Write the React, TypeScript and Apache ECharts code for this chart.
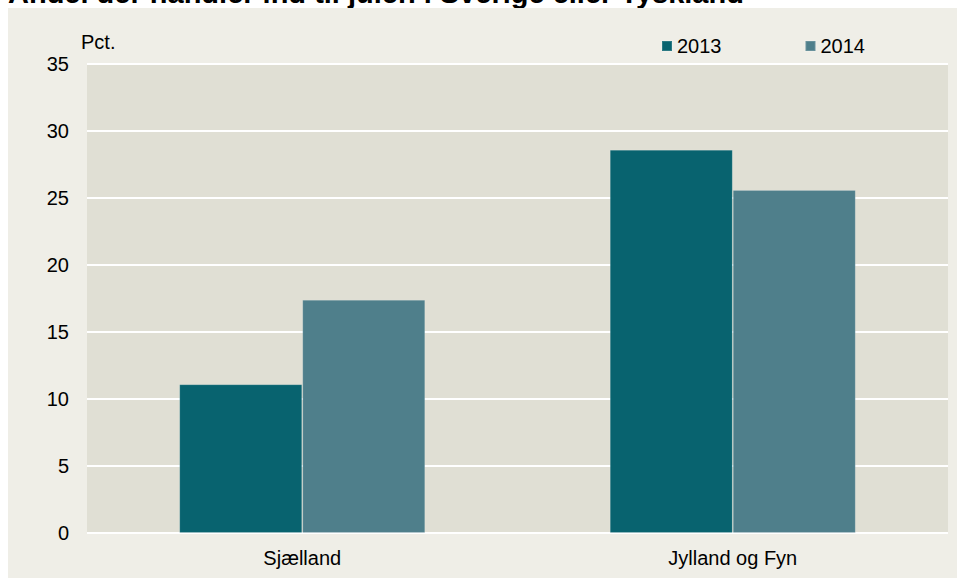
import React, { useEffect, useRef } from "react";
import * as echarts from "echarts";

const title = "Andel der handler ind til julen i Sverige eller Tyskland";
const unitLabel = "Pct.";
const categories = ["Sjælland", "Jylland og Fyn"];
const seriesNames = ["2013", "2014"];
const values2013 = [11.1, 28.6];
const values2014 = [17.4, 25.6];
const seriesColors = ["#08636f", "#4f7f8b"];

const FONT = "'Liberation Sans', Arial, sans-serif";

export default function App() {
  const ref = useRef<HTMLDivElement>(null);
  useEffect(() => {
    if (!ref.current) return;
    const chart = echarts.init(ref.current, undefined, { renderer: "svg" });
    const seriesValues = [values2013, values2014];
    chart.setOption({
      animation: false,
      backgroundColor: "#efeee7",
      textStyle: { fontFamily: FONT },
      graphic: [
        { type: "rect", z: 1, shape: { x: 0, y: 0, width: 957, height: 8 }, style: { fill: "#ffffff" } },
        { type: "rect", z: 1, shape: { x: 0, y: 0, width: 8, height: 578 }, style: { fill: "#ffffff" } },
        {
          type: "text",
          z: 2,
          x: 8,
          y: -7.5,
          style: {
            text: title,
            fontFamily: FONT,
            fontSize: 29,
            fontWeight: "bold",
            fill: "#000000",
            verticalAlign: "middle",
            align: "left",
          },
        },
        { type: "rect", z: 3, shape: { x: 8, y: 8, width: 949, height: 14 }, style: { fill: "#efeee7" } },
        {
          type: "text",
          z: 4,
          x: 81,
          y: 42,
          style: {
            text: unitLabel,
            fontFamily: FONT,
            fontSize: 20,
            fill: "#000000",
            verticalAlign: "middle",
            align: "left",
          },
        },
      ],
      legend: {
        data: seriesNames,
        left: 656,
        top: 31,
        itemWidth: 10,
        itemHeight: 10,
        itemGap: 83,
        icon: "rect",
        textStyle: { fontFamily: FONT, fontSize: 20, color: "#000000", padding: [0, 0, 0, 0] },
      },
      grid: {
        left: 87,
        right: 9,
        top: 64,
        bottom: 45,
        show: true,
        backgroundColor: "#e0dfd4",
        borderWidth: 0,
        containLabel: false,
      },
      xAxis: {
        type: "category",
        data: categories,
        axisLine: { show: false },
        axisTick: { show: false },
        axisLabel: { fontFamily: FONT, fontSize: 20, color: "#000000", margin: 15 },
      },
      yAxis: {
        type: "value",
        min: 0,
        max: 35,
        interval: 5,
        axisLine: { show: false },
        axisTick: { show: false },
        axisLabel: { fontFamily: FONT, fontSize: 20, color: "#000000", margin: 18 },
        splitLine: { show: true, lineStyle: { color: "#ffffff", width: 2 } },
      },
      series: seriesNames.map((name, i) => ({
        name,
        type: "bar",
        data: seriesValues[i],
        barWidth: 123,
        barGap: "0%",
        itemStyle: { color: seriesColors[i], borderColor: "rgba(255,255,255,0.15)", borderWidth: 1 },
      })),
    });
    return () => chart.dispose();
  }, []);
  return <div ref={ref} style={{ position: "fixed", left: 0, top: 0, width: 957, height: 578 }} />;
}
